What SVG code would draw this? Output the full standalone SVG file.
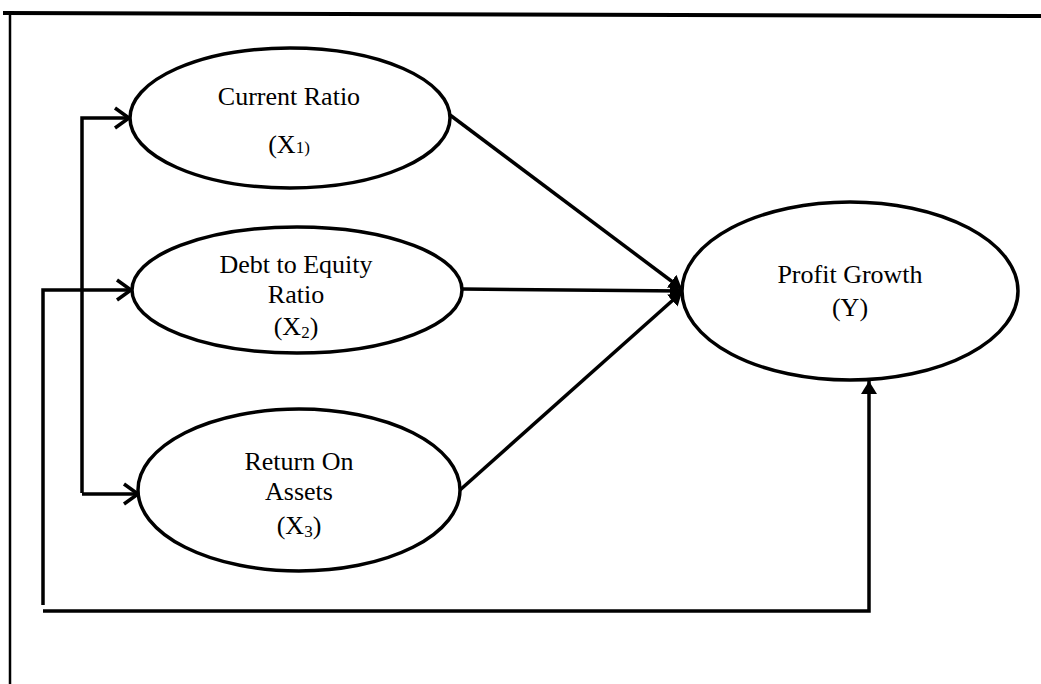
<svg xmlns="http://www.w3.org/2000/svg" width="1041" height="684" viewBox="0 0 1041 684">
<style>
.node ellipse{fill:#fff;stroke:#000;stroke-width:3.5}
.node text{font-family:"Liberation Serif","Times New Roman",serif;font-size:26px;fill:#000;text-anchor:middle}
.sub{font-size:17px}
.conn{fill:none;stroke:#000;stroke-width:3.5}
</style>
<defs>
<marker id="open" markerUnits="userSpaceOnUse" markerWidth="20" markerHeight="24" refX="17" refY="12" orient="auto">
<path d="M3,2 L17,12 L3,22" fill="none" stroke="#000" stroke-width="3.5"/>
</marker>
<marker id="solid" markerUnits="userSpaceOnUse" markerWidth="14" markerHeight="18" refX="13" refY="9" orient="auto">
<path d="M0,1 L13,9 L0,17 Z" fill="#000"/>
</marker>
</defs>
<rect width="1041" height="684" fill="#fff"/>
<g id="frame">
<line x1="3" y1="13" x2="1041" y2="16" stroke="#000" stroke-width="4"/>
<line x1="10" y1="13" x2="10" y2="684" stroke="#000" stroke-width="2.5"/>
</g>
<g id="connectors">
<polyline class="conn" points="82,493 82,118 129,118" marker-end="url(#open)"/>
<polyline class="conn" points="82,494 138,494" marker-end="url(#open)"/>
<polyline class="conn" points="43,605 43,290 131,290" marker-end="url(#open)"/>
<polyline class="conn" points="43,611 869,611 869,381" marker-end="url(#solid)"/>
<line class="conn" x1="450" y1="115" x2="682" y2="289" marker-end="url(#solid)"/>
<line class="conn" x1="462" y1="289" x2="683" y2="291" marker-end="url(#solid)"/>
<line class="conn" x1="460" y1="490" x2="682" y2="292" marker-end="url(#solid)"/>
</g>
<g id="node-x1" class="node">
<ellipse cx="290" cy="118" rx="160" ry="70"/>
<text x="289" y="105">Current Ratio</text>
<text x="289" y="153">(X<tspan class="sub">1)</tspan></text>
</g>
<g id="node-x2" class="node">
<ellipse cx="297" cy="290" rx="165" ry="63"/>
<text x="296" y="273">Debt to Equity</text>
<text x="296" y="303">Ratio</text>
<text x="296" y="335">(X<tspan class="sub" dy="3">2</tspan><tspan dy="-3">)</tspan></text>
</g>
<g id="node-x3" class="node">
<ellipse cx="299" cy="490" rx="161" ry="81"/>
<text x="299" y="470">Return On</text>
<text x="299" y="500">Assets</text>
<text x="299" y="534">(X<tspan class="sub" dy="3">3</tspan><tspan dy="-3">)</tspan></text>
</g>
<g id="node-y" class="node">
<ellipse cx="850" cy="291" rx="168" ry="89"/>
<text x="850" y="283">Profit Growth</text>
<text x="850" y="316">(Y)</text>
</g>
</svg>
